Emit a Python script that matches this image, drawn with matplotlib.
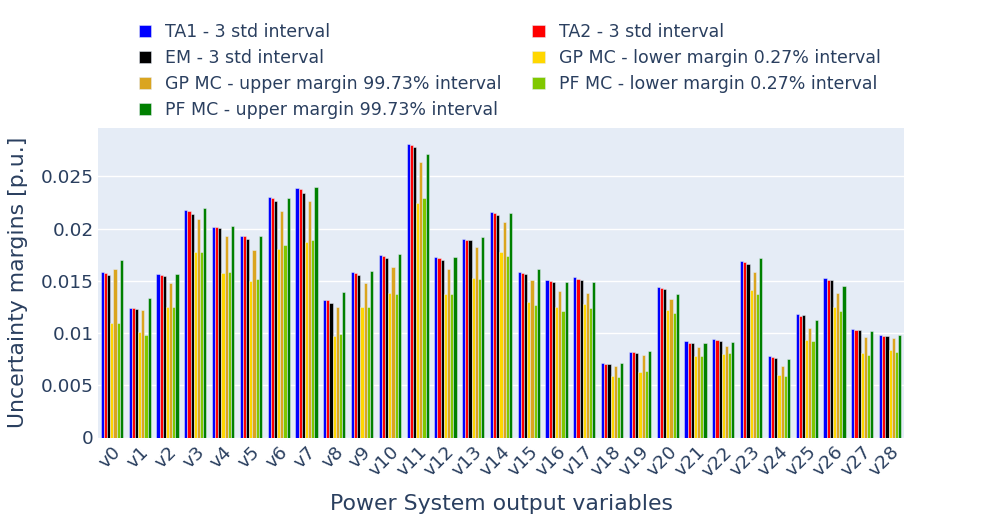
import numpy as np
import matplotlib
matplotlib.use("Agg")
import matplotlib.pyplot as plt

# uncertainty margins per output variable, one list per method
variables = ["v%d" % i for i in range(29)]

ta1 = [0.01580, 0.01242, 0.01561, 0.02174, 0.02018, 0.01928, 0.02299, 0.02388, 0.01319, 0.01587,
       0.01743, 0.02813, 0.01724, 0.01903, 0.02162, 0.01587, 0.01510, 0.01533, 0.00709, 0.00817,
       0.01443, 0.00920, 0.00939, 0.01692, 0.00776, 0.01178, 0.01526, 0.01034, 0.00977]
ta2 = [0.01577, 0.01242, 0.01558, 0.02171, 0.02015, 0.01925, 0.02292, 0.02382, 0.01319, 0.01577,
       0.01740, 0.02803, 0.01715, 0.01893, 0.02149, 0.01577, 0.01497, 0.01520, 0.00702, 0.00814,
       0.01430, 0.00907, 0.00929, 0.01676, 0.00766, 0.01165, 0.01510, 0.01025, 0.00971]
em = [0.01552, 0.01226, 0.01545, 0.02142, 0.02002, 0.01900, 0.02261, 0.02340, 0.01290, 0.01558,
      0.01721, 0.02778, 0.01695, 0.01887, 0.02126, 0.01565, 0.01491, 0.01510, 0.00699, 0.00805,
      0.01424, 0.00900, 0.00926, 0.01663, 0.00763, 0.01169, 0.01504, 0.01025, 0.00971]
gp_lower = [0.01098, 0.01012, 0.01252, 0.01775, 0.01574, 0.01497, 0.01804, 0.01871, 0.00967, 0.01248,
            0.01379, 0.02245, 0.01376, 0.01526, 0.01775, 0.01300, 0.01248, 0.01280, 0.00587, 0.00629,
            0.01223, 0.00779, 0.00801, 0.01408, 0.00597, 0.00929, 0.01248, 0.00805, 0.00833]
gp_upper = [0.01609, 0.01216, 0.01481, 0.02095, 0.01925, 0.01798, 0.02171, 0.02264, 0.01248, 0.01481,
            0.01628, 0.02634, 0.01616, 0.01820, 0.02059, 0.01507, 0.01398, 0.01383, 0.00680, 0.00785,
            0.01322, 0.00865, 0.00872, 0.01587, 0.00683, 0.01050, 0.01383, 0.00958, 0.00948]
pf_lower = [0.01098, 0.00980, 0.01252, 0.01775, 0.01584, 0.01517, 0.01842, 0.01890, 0.00990, 0.01248,
            0.01373, 0.02289, 0.01370, 0.01513, 0.01740, 0.01271, 0.01207, 0.01239, 0.00575, 0.00635,
            0.01191, 0.00779, 0.00808, 0.01373, 0.00587, 0.00923, 0.01210, 0.00789, 0.00814]
pf_upper = [0.01699, 0.01331, 0.01564, 0.02193, 0.02024, 0.01928, 0.02296, 0.02395, 0.01389, 0.01593,
            0.01759, 0.02717, 0.01730, 0.01916, 0.02146, 0.01609, 0.01491, 0.01491, 0.00715, 0.00830,
            0.01376, 0.00904, 0.00910, 0.01715, 0.00747, 0.01121, 0.01446, 0.01019, 0.00977]

series = [
    ("TA1 - 3 std interval", ta1, "blue"),
    ("TA2 - 3 std interval", ta2, "red"),
    ("EM - 3 std interval", em, "black"),
    ("GP MC - lower margin 0.27% interval", gp_lower, "gold"),
    ("GP MC - upper margin 99.73% interval", gp_upper, "goldenrod"),
    ("PF MC - lower margin 0.27% interval", pf_lower, "#80C800"),
    ("PF MC - upper margin 99.73% interval", pf_upper, "green"),
]

plt.rcParams["font.family"] = ["DejaVu Sans"]
txt = "#2a3f5f"

W, H = 983, 525
fig = plt.figure(figsize=(W / 100, H / 100), dpi=100)
x0, x1, y0, y1 = 98, 904, 127.7, 437.5
ax = fig.add_axes([x0 / W, 1 - y1 / H, (x1 - x0) / W, (y1 - y0) / H])
ax.set_facecolor("#E5ECF6")
for s in ax.spines.values():
    s.set_visible(False)

x = np.arange(len(variables))
n = len(series)
w = 0.8 / n
handles = []
for i, (name, vals, col) in enumerate(series):
    b = ax.bar(x + (i - (n - 1) / 2) * w, vals, width=w, color=col,
               edgecolor="#E5ECF6", linewidth=0.36, label=name, zorder=2)
    handles.append(b)

ax.set_xlim(-0.5, len(variables) - 0.5)
ax.set_ylim(0, 0.02965)
yt = [0, 0.005, 0.01, 0.015, 0.02, 0.025]
ax.set_yticks(yt)
ax.set_yticklabels(["0", "0.005", "0.01", "0.015", "0.02", "0.025"])
ax.grid(axis="y", color="white", linewidth=1, zorder=0)
ax.set_axisbelow(True)
ax.set_xticks(x)
ax.set_xticklabels(variables, rotation=45, ha="right", rotation_mode="anchor")
ax.tick_params(length=0, labelsize=13.3, colors=txt, pad=3)
ax.tick_params(axis="x", pad=4)

ax.set_xlabel("Power System output variables", fontsize=15.8, color=txt, labelpad=10)
ax.set_ylabel("Uncertainty margins [p.u.]", fontsize=15.8, color=txt, labelpad=9)

# plotly fills legend rows first, matplotlib fills columns first
order = [0, 2, 4, 6, 1, 3, 5]
fig.legend(handles=[handles[k] for k in order], loc="upper left",
           bbox_to_anchor=(130 / W, 1 - 14 / H),
           ncols=2, frameon=False, fontsize=12.5, labelcolor=txt,
           handlelength=0.7, handleheight=0.7, handletextpad=0.8,
           columnspacing=1.8, labelspacing=0.47, borderpad=0)

fig.savefig("out.png", dpi=100)
